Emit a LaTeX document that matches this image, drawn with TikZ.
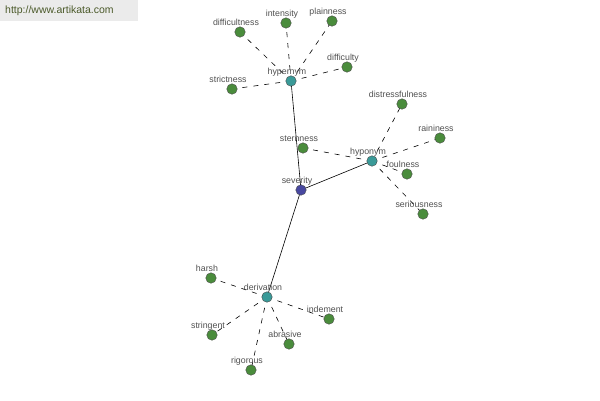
\documentclass[tikz,border=0pt]{standalone}
\usepackage{fontspec}
\setmainfont{Liberation Sans}
\definecolor{leafc}{HTML}{4A8C3C}
\definecolor{hubc}{HTML}{3A9A98}
\definecolor{rootc}{HTML}{4848A0}
\definecolor{labc}{HTML}{505050}
\definecolor{wmbg}{HTML}{EBEBEB}
\definecolor{wmtx}{HTML}{4B5A2A}
\begin{document}
\begin{tikzpicture}[x=1pt,y=-1pt,
  dot/.style={circle,draw=black!70,line width=0.4pt,inner sep=0pt,minimum size=10.5pt},
  leaf/.style={dot,fill=leafc},
  hub/.style={dot,fill=hubc},
  root/.style={dot,fill=rootc},
  lab/.style={font=\fontsize{8.8}{9}\selectfont,text=labc,inner sep=0pt},
  solidedge/.style={draw=black,line width=0.6pt},
  dashedge/.style={draw=black,line width=0.6pt,dash pattern=on 5pt off 6pt}]
\useasboundingbox (0,0) rectangle (600,400);
\fill[wmbg] (0,0) rectangle (138,21);
\node[font=\fontsize{10.5}{11}\selectfont,text=wmtx,anchor=west,inner sep=0pt] (wm) at (5,11) {http://www.artikata.com};
% coordinates
\coordinate (severity) at (301,190);
\coordinate (hypernym) at (291,81);
\coordinate (hyponym) at (372,161);
\coordinate (derivation) at (267,297);
\coordinate (difficultness) at (240,32);
\coordinate (intensity) at (286,23);
\coordinate (plainness) at (332,21);
\coordinate (difficulty) at (347,67);
\coordinate (strictness) at (232,89);
\coordinate (sternness) at (303,148);
\coordinate (distressfulness) at (402,104);
\coordinate (raininess) at (440,138);
\coordinate (foulness) at (407,174);
\coordinate (seriousness) at (423,214);
\coordinate (harsh) at (211,278);
\coordinate (stringent) at (212,335);
\coordinate (rigorous) at (251,370);
\coordinate (abrasive) at (289,344);
\coordinate (indement) at (329,319);
% edges
\draw[solidedge] (severity) -- (hypernym);
\draw[solidedge] (severity) -- (hyponym);
\draw[solidedge] (severity) -- (derivation);
\foreach \l in {difficultness,intensity,plainness,difficulty,strictness}
  \draw[dashedge] (hypernym) -- (\l);
\foreach \l in {sternness,distressfulness,raininess,foulness,seriousness}
  \draw[dashedge] (hyponym) -- (\l);
\foreach \l in {harsh,stringent,rigorous,abrasive,indement}
  \draw[dashedge] (derivation) -- (\l);
% nodes
\node[root] (n-severity) at (severity) {};
\foreach \h in {hypernym,hyponym,derivation}
  \node[hub] (n-\h) at (\h) {};
\foreach \l in {difficultness,intensity,plainness,difficulty,strictness,sternness,distressfulness,raininess,foulness,seriousness,harsh,stringent,rigorous,abrasive,indement}
  \node[leaf] (n-\l) at (\l) {};
% labels
\foreach \l in {severity,hypernym,hyponym,derivation,difficultness,intensity,plainness,difficulty,strictness,sternness,distressfulness,raininess,foulness,seriousness,harsh,stringent,rigorous,abrasive,indement}
  \node[lab,anchor=base] (t-\l) at ([xshift=-4pt,yshift=7pt]\l) {\l};
\end{tikzpicture}
\end{document}
